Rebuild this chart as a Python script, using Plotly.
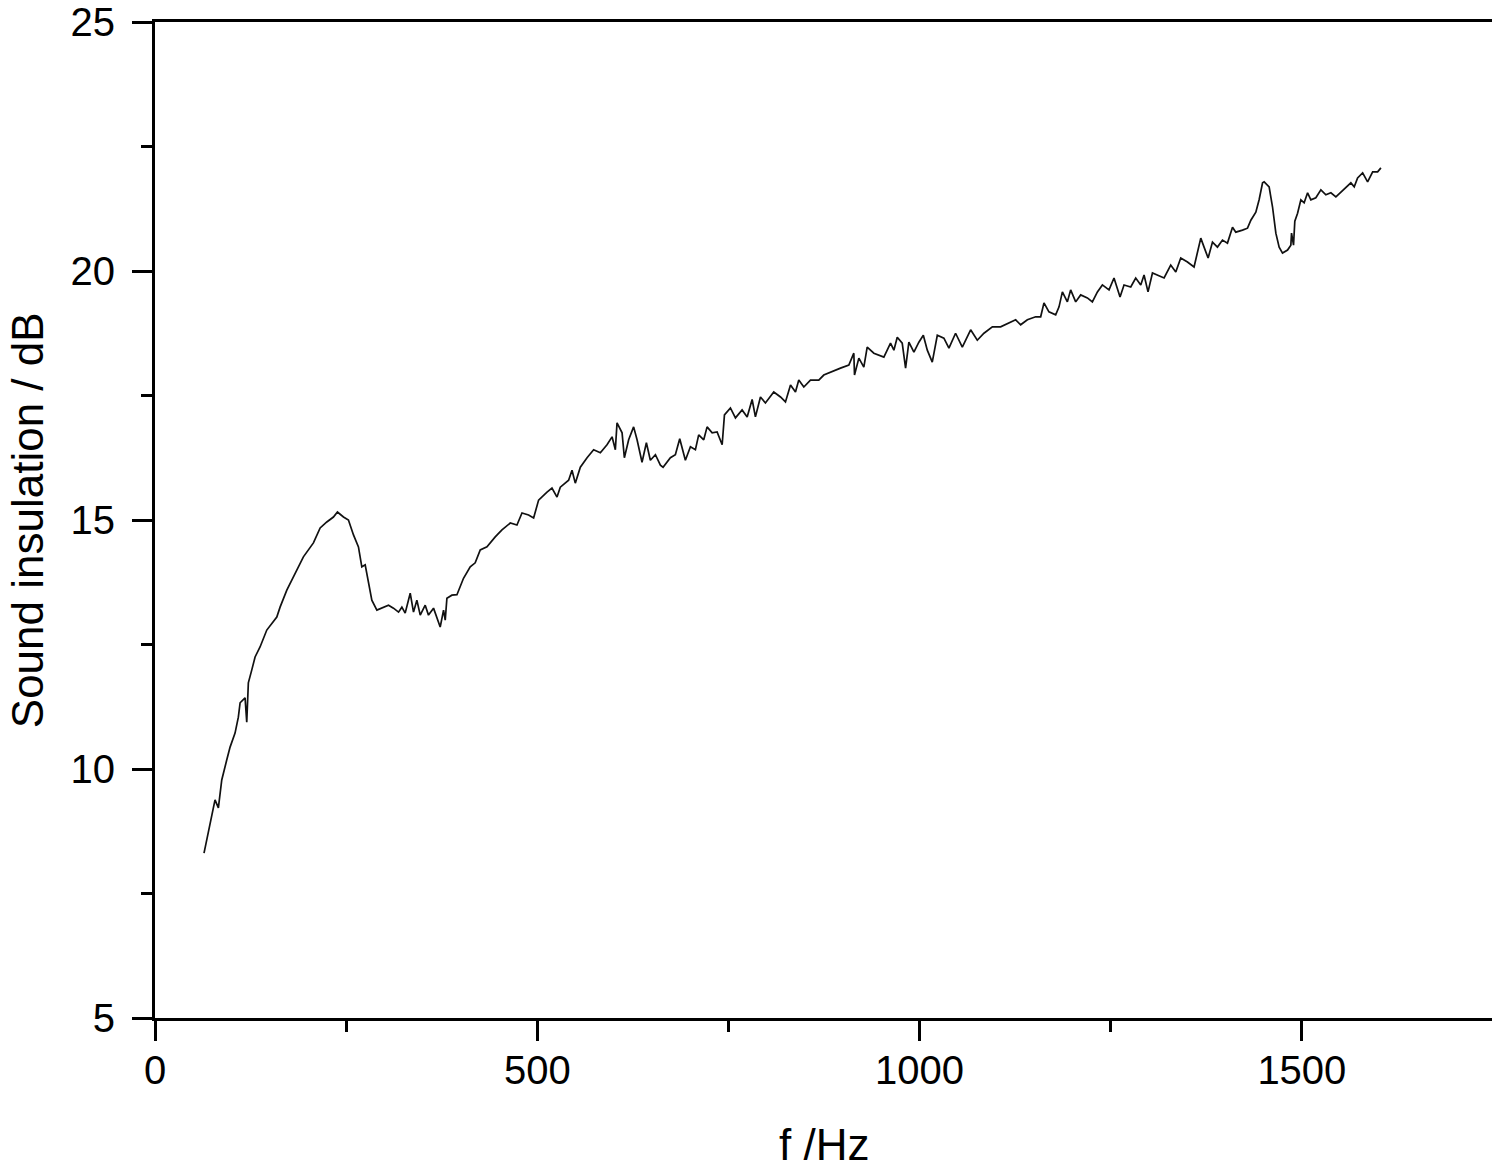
import plotly.graph_objects as go

# Frequency (Hz) and sound insulation (dB)
freq_hz = [
    64.1, 69.8, 74.2, 78.5, 82.9, 87.3, 93.8, 98.2, 104.7, 109.0,
    111.3, 117.8, 120.0, 122.1, 126.6, 130.9, 137.4, 146.2, 159.3, 163.6,
    172.4, 185.5, 194.1, 207.2, 216.0, 224.7, 233.4, 238.6, 246.5, 253.0,
    259.6, 266.1, 270.5, 274.9, 279.2, 283.6, 290.2, 298.8, 305.4, 311.9,
    318.5, 322.9, 327.2, 333.8, 338.1, 342.5, 346.9, 353.4, 357.7, 364.3,
    368.7, 373.0, 377.4, 379.6, 381.8, 388.3, 394.9, 399.2, 403.5, 412.3,
    418.8, 425.4, 434.2, 445.0, 453.8, 464.7, 473.4, 480.0, 488.6, 495.2,
    501.7, 512.7, 519.2, 525.8, 530.1, 541.0, 545.4, 549.7, 556.3, 565.1,
    573.7, 582.5, 591.2, 597.8, 602.1, 604.3, 610.9, 613.9, 619.5, 626.0,
    630.5, 637.0, 642.7, 647.9, 654.5, 661.0, 664.5, 674.1, 680.6, 686.3,
    693.7, 700.3, 706.8, 711.1, 717.7, 722.1, 728.7, 735.2, 741.8, 744.8,
    752.6, 759.2, 767.9, 774.5, 781.0, 785.3, 791.9, 798.4, 809.3, 818.1,
    824.6, 831.2, 837.7, 842.0, 848.6, 857.3, 868.2, 874.7, 883.5, 896.6,
    907.5, 914.0, 914.9, 920.6, 927.1, 931.5, 940.2, 953.3, 962.0, 966.4,
    970.8, 977.3, 981.7, 986.0, 992.6, 999.1, 1004.9, 1010.1, 1016.6, 1023.2,
    1031.8, 1038.4, 1047.1, 1055.9, 1066.8, 1075.5, 1084.2, 1095.2, 1106.0, 1116.9,
    1125.7, 1132.2, 1141.0, 1151.8, 1158.4, 1162.7, 1169.2, 1178.0, 1182.4, 1186.8,
    1193.3, 1197.6, 1204.2, 1210.7, 1219.5, 1226.0, 1232.6, 1239.1, 1247.8, 1254.3,
    1262.2, 1267.4, 1276.2, 1282.7, 1289.3, 1293.6, 1298.8, 1304.6, 1311.1, 1319.8,
    1328.5, 1335.1, 1341.6, 1350.4, 1359.0, 1367.8, 1372.1, 1377.4, 1383.1, 1389.6,
    1396.2, 1402.7, 1409.3, 1413.6, 1422.4, 1428.9, 1433.3, 1439.8, 1444.1, 1448.6,
    1450.7, 1457.2, 1461.6, 1466.0, 1470.3, 1474.7, 1481.3, 1485.6, 1486.5, 1489.1,
    1490.8, 1494.4, 1498.7, 1503.0, 1507.5, 1511.8, 1518.3, 1524.9, 1531.4, 1538.0,
    1544.5, 1551.1, 1557.6, 1564.1, 1568.5, 1572.9, 1579.5, 1586.0, 1592.6, 1599.1,
    1603.4,
]

insulation_db = [
    8.31, 8.71, 9.04, 9.38, 9.22, 9.78, 10.18, 10.44, 10.72, 11.04,
    11.33, 11.43, 10.94, 11.73, 11.99, 12.25, 12.45, 12.79, 13.05, 13.25,
    13.59, 14.00, 14.26, 14.54, 14.84, 14.96, 15.06, 15.16, 15.06, 15.00,
    14.70, 14.46, 14.06, 14.10, 13.73, 13.39, 13.19, 13.25, 13.29, 13.23,
    13.15, 13.25, 13.13, 13.53, 13.15, 13.39, 13.09, 13.29, 13.09, 13.23,
    13.03, 12.85, 13.19, 12.99, 13.43, 13.49, 13.50, 13.65, 13.83, 14.06,
    14.14, 14.40, 14.46, 14.66, 14.80, 14.94, 14.90, 15.14, 15.10, 15.04,
    15.40, 15.56, 15.64, 15.46, 15.66, 15.80, 16.00, 15.74, 16.06, 16.25,
    16.41, 16.35, 16.51, 16.67, 16.41, 16.95, 16.75, 16.25, 16.61, 16.87,
    16.61, 16.16, 16.55, 16.20, 16.31, 16.10, 16.06, 16.25, 16.31, 16.63,
    16.20, 16.47, 16.41, 16.71, 16.61, 16.87, 16.75, 16.77, 16.51, 17.11,
    17.25, 17.05, 17.21, 17.07, 17.42, 17.07, 17.47, 17.35, 17.57, 17.47,
    17.37, 17.71, 17.57, 17.81, 17.67, 17.81, 17.81, 17.91, 17.97, 18.05,
    18.11, 18.35, 17.91, 18.25, 18.07, 18.47, 18.35, 18.27, 18.55, 18.41,
    18.67, 18.55, 18.05, 18.57, 18.37, 18.57, 18.71, 18.41, 18.17, 18.71,
    18.65, 18.45, 18.75, 18.47, 18.82, 18.61, 18.75, 18.88, 18.88, 18.96,
    19.02, 18.92, 19.02, 19.08, 19.08, 19.36, 19.18, 19.12, 19.28, 19.58,
    19.38, 19.62, 19.38, 19.52, 19.46, 19.38, 19.58, 19.72, 19.62, 19.86,
    19.48, 19.72, 19.68, 19.86, 19.72, 19.92, 19.58, 19.96, 19.92, 19.86,
    20.12, 19.98, 20.26, 20.18, 20.08, 20.66, 20.48, 20.26, 20.58, 20.48,
    20.62, 20.56, 20.88, 20.78, 20.82, 20.86, 21.02, 21.18, 21.43, 21.77,
    21.79, 21.69, 21.29, 20.76, 20.48, 20.36, 20.42, 20.52, 20.76, 20.52,
    21.00, 21.16, 21.43, 21.37, 21.57, 21.43, 21.47, 21.63, 21.53, 21.57,
    21.49, 21.59, 21.69, 21.77, 21.69, 21.87, 21.97, 21.79, 21.99, 21.99,
    22.07,
]

x_ticks = [0, 500, 1000, 1500]
y_ticks = [5, 10, 15, 20, 25]

FONT = "Arial, Liberation Sans, Helvetica, sans-serif"

fig = go.Figure()
fig.add_trace(go.Scatter(
    x=freq_hz, y=insulation_db, mode="lines",
    line=dict(color="#111111", width=1.7),
    showlegend=False,
))

axis_common = dict(
    showgrid=False, zeroline=False, automargin=False,
    showline=True, linecolor="black", linewidth=3, mirror=True,
    ticks="outside", ticklen=20, tickwidth=3, tickcolor="black",
    ticklabeloverflow="allow",
    tickfont=dict(family=FONT, size=40, color="black"),
)

fig.update_xaxes(
    range=[0, 1750], tickmode="array", tickvals=x_ticks,
    ticktext=[str(v) for v in x_ticks],
    minor=dict(dtick=250, tick0=0, ticks="outside", ticklen=11, tickwidth=3, tickcolor="black", showgrid=False),
    ticklabelstandoff=-5,
    **axis_common,
)
fig.update_yaxes(
    range=[5, 25], tickmode="array", tickvals=y_ticks,
    ticktext=[str(v) for v in y_ticks],
    minor=dict(dtick=2.5, tick0=5, ticks="outside", ticklen=11, tickwidth=3, tickcolor="black", showgrid=False),
    ticklabelstandoff=9,
    **axis_common,
)

# The page adds an 8px body margin, so the figure is sized to fit the window
fig.update_layout(
    width=1492, height=1160,
    margin=dict(l=147, r=7, t=14, b=150),
    paper_bgcolor="white", plot_bgcolor="white",
    font=dict(family=FONT, color="black"),
    annotations=[
        dict(text="f /Hz", xref="paper", yref="paper", x=0.5, y=-0.1275,
             xanchor="center", yanchor="middle", showarrow=False,
             font=dict(family=FONT, size=44, color="black")),
        dict(text="Sound insulation / dB", xref="paper", yref="paper", x=-0.0955, y=0.5,
             xanchor="center", yanchor="middle", textangle=-90, showarrow=False,
             font=dict(family=FONT, size=44, color="black")),
    ],
)

fig.write_html("out.html")
